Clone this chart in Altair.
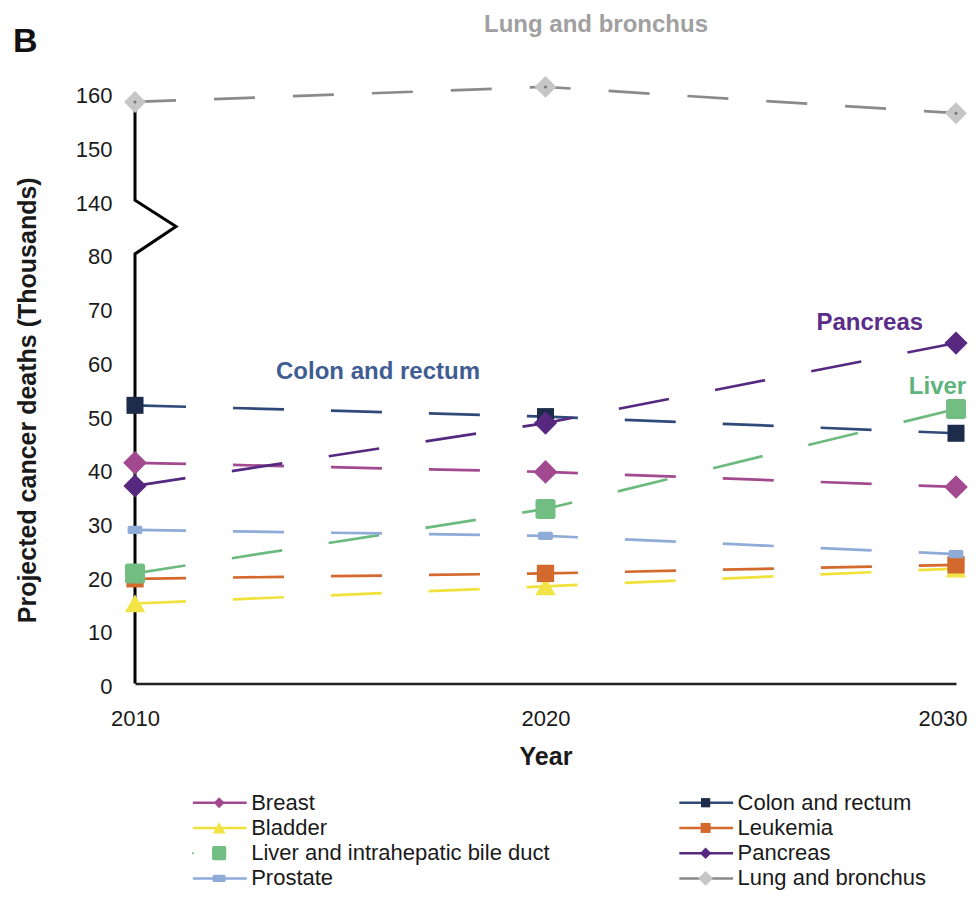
import altair as alt
import pandas as pd

# ---------------- data (thousands of deaths) ----------------
years = [2010, 2020, 2030]
series = ["Breast", "Colon and rectum", "Bladder", "Leukemia",
          "Liver and intrahepatic bile duct", "Pancreas", "Prostate", "Lung and bronchus"]
breast = [41.1, 39.4, 36.6]
colon = [51.8, 49.7, 46.6]
bladder = [14.9, 18.1, 21.4]
leukemia = [19.5, 20.5, 22.1]
liver = [20.5, 32.5, 51.1]
pancreas = [36.8, 48.5, 63.4]
prostate = [28.6, 27.5, 24.1]
lung = [158.3, 161.1, 156.2]
values = [breast, colon, bladder, leukemia, liver, pancreas, prostate, lung]

y_ticks = [0, 10, 20, 30, 40, 50, 60, 70, 80, 140, 150, 160]
x_ticks = [2010, 2020, 2030]

legend_left = ["Breast", "Bladder", "Liver and intrahepatic bile duct", "Prostate"]
legend_right = ["Colon and rectum", "Leukemia", "Pancreas", "Lung and bronchus"]

# ---------------- styles ----------------
line_colors = ["#a2498f", "#2f4a78", "#f0e23a", "#d4692e", "#6cba7d", "#55297f", "#8fabd8", "#8a8a8a"]
fill_colors = ["#a2498f", "#1d2c4a", "#f2e447", "#d4692e", "#72bd82", "#56287f", "#8fabd8", "#c6c6c6"]
rsq = "M-0.75,-1H0.75Q1,-1 1,-0.75V0.75Q1,1 0.75,1H-0.75Q-1,1 -1,0.75V-0.75Q-1,-1 -0.75,-1Z"
prect = "M-0.8,-0.55H0.8Q1,-0.55 1,-0.3V0.3Q1,0.55 0.8,0.55H-0.8Q-1,0.55 -1,0.3V-0.3Q-1,-0.55 -0.8,-0.55Z"
shapes = ["diamond", "square", "triangle-up", "square", rsq, "diamond", prect, "diamond"]
plot_sizes = [560, 290, 420, 300, 400, 540, 220, 480]
legend_sizes = [120, 85, 170, 100, 200, 130, 170, 220]
dashes = [[51, 47]] * 7 + [[41, 38]]

BREAK = 50  # values >= 140 are drawn 50 units lower (broken axis)

# convert the broken-axis tick values into plotting positions
y_tick_pos = [v - BREAK if v >= 100 else v for v in y_ticks]

psize = dict(zip(series, plot_sizes))
lsize = dict(zip(series, legend_sizes))

rows = []
for name, vals in zip(series, values):
    for yr, v in zip(years, vals):
        rows.append({"name": name, "x": yr, "value": v, "sz": psize[name]})
df = pd.DataFrame(rows)

brk = pd.DataFrame({"x": [2010, 2010, 2011, 2010, 2010],
                    "v": [0, 80, 85.1, 90, 110],
                    "i": [0, 1, 2, 3, 4]})

leg_rows = []
for col, names in enumerate([legend_left, legend_right]):
    for r, n in enumerate(names):
        leg_rows.append({"name": n, "col": col, "row": r, "sz": lsize[n]})
leg = pd.DataFrame(leg_rows)

xs = alt.Scale(domain=[2010, 2030], nice=False, zero=False)
ys = alt.Scale(domain=[0, 110], nice=False, zero=False)

font = "Liberation Sans"


def X(field="x"):
    return alt.X(f"{field}:Q", scale=xs, axis=alt.Axis(
        values=x_ticks, format="d", title="Year", grid=False, ticks=False,
        domainColor="#222222", domainWidth=2.6, labelFontSize=22, labelColor="#1a1a1a",
        labelPadding=25, labelFlush=False,
        labelAlign={"condition": {"test": "datum.value == 2030", "value": "right"}, "value": "center"},
        labelOffset={"condition": {"test": "datum.value == 2030", "value": 11}, "value": 0},
        labelFont=font, titleFont=font, titleFontSize=25,
        titleFontWeight="bold", titleColor="#1a1a1a", titlePadding=15))


def Y(field="y"):
    return alt.Y(f"{field}:Q", scale=ys, axis=alt.Axis(
        values=y_tick_pos,
        labelExpr=f"datum.value >= 90 ? datum.value + {BREAK} : datum.value",
        title="Projected cancer deaths (Thousands)", grid=False, ticks=False,
        domain=False, labelFontSize=22, labelColor="#1a1a1a", labelPadding=23,
        labelOffset=3, labelFlush=False, labelFont=font, titleFont=font, titleFontSize=25,
        titleFontWeight="bold", titleColor="#1a1a1a", titleX=-108, titleY=307,
        titleBaseline="middle"))


base = alt.Chart(df).transform_calculate(
    y=f"datum.value >= 100 ? datum.value - {BREAK} : datum.value")

color_scale = alt.Scale(domain=series, range=line_colors)
fill_scale = alt.Scale(domain=series, range=fill_colors)
shape_scale = alt.Scale(domain=series, range=shapes)

lines = base.mark_line(strokeWidth=2.7, strokeCap="butt").encode(
    x=X(), y=Y(),
    color=alt.Color("name:N", scale=color_scale, legend=None),
    strokeDash=alt.StrokeDash("name:N", scale=alt.Scale(domain=series, range=dashes), legend=None),
)

points = base.mark_point(filled=True, opacity=1, strokeWidth=0).encode(
    x=X(), y=Y(),
    fill=alt.Fill("name:N", scale=fill_scale, legend=None),
    shape=alt.Shape("name:N", scale=shape_scale, legend=None),
    size=alt.Size("sz:Q", scale=None, legend=None),
)

lung_dot = base.transform_filter(alt.datum.name == "Lung and bronchus").mark_point(
    filled=True, opacity=1, size=9, color="#777777").encode(x=X(), y=Y())

axis_break = alt.Chart(brk).transform_calculate(y="datum.v").mark_line(
    color="#000000", strokeWidth=3, strokeJoin="miter").encode(
    x=X(), y=Y(), order="i:O")

# ---------------- annotations ----------------
ann_text = ["Lung and bronchus", "Colon and rectum", "Pancreas", "Liver"]
ann_x = [2021.23, 2015.92, 2027.9, 2029.55]
ann_y = [122.6, 58.0, 67.1, 55.2]
ann_color = ["#a0a0a0", "#3f5d92", "#5b2d88", "#5db47c"]
ann_layers = []
for t, ax_, ay_, c in zip(ann_text, ann_x, ann_y, ann_color):
    ann_layers.append(
        alt.Chart(pd.DataFrame({"x": [ax_], "y": [ay_], "t": [t]})).mark_text(
            font=font, fontSize=24, fontWeight="bold", color=c, align="center",
            baseline="middle").encode(x=X(), y=Y(), text="t:N"))

panel_b = alt.Chart(pd.DataFrame({"x": [2007.03], "y": [117.6], "t": ["B"]})).mark_text(
    font=font, fontSize=34, fontWeight="bold", color="#111111", align="left",
    baseline="alphabetic").encode(x=X(), y=Y(), text="t:N")

# ---------------- manual legend (line + marker) ----------------
legb = alt.Chart(leg).transform_calculate(
    y="-22.2 - 4.7 * datum.row",
    lx0="2011.41 + 11.85 * datum.col",
    lx1="2012.72 + 11.85 * datum.col",
    mx="2012.05 + 11.85 * datum.col",
    tx="2012.83 + 11.85 * datum.col",
)
leg_lines = legb.transform_filter(alt.datum.name != "Liver and intrahepatic bile duct").mark_rule(
    strokeWidth=2.6).encode(
    x=X("lx0"), x2="lx1:Q", y=Y(),
    color=alt.Color("name:N", scale=color_scale, legend=None))
leg_dot = legb.transform_filter(alt.datum.name == "Liver and intrahepatic bile duct").mark_point(
    filled=True, opacity=1, size=4, color="#6cba7d").encode(x=X("lx0"), y=Y())
leg_marks = legb.mark_point(filled=True, opacity=1, strokeWidth=0).encode(
    x=X("mx"), y=Y(),
    fill=alt.Fill("name:N", scale=fill_scale, legend=None),
    shape=alt.Shape("name:N", scale=shape_scale, legend=None),
    size=alt.Size("sz:Q", scale=None, legend=None),
)
leg_text = legb.mark_text(font=font, fontSize=22, color="#1a1a1a", align="left",
                          baseline="middle").encode(x=X("tx"), y=Y(), text="name:N")

chart = alt.layer(
    lines, axis_break, points, lung_dot, *ann_layers, panel_b,
    leg_lines, leg_dot, leg_marks, leg_text
).properties(
    width=821, height=590.7,
    autosize=alt.AutoSizeParams(type="none"),
    padding={"left": 127, "top": 84.8, "right": 12, "bottom": 208},
).configure_view(stroke=None)

chart.save("out.html", embed_options={"renderer": "svg", "actions": False})
